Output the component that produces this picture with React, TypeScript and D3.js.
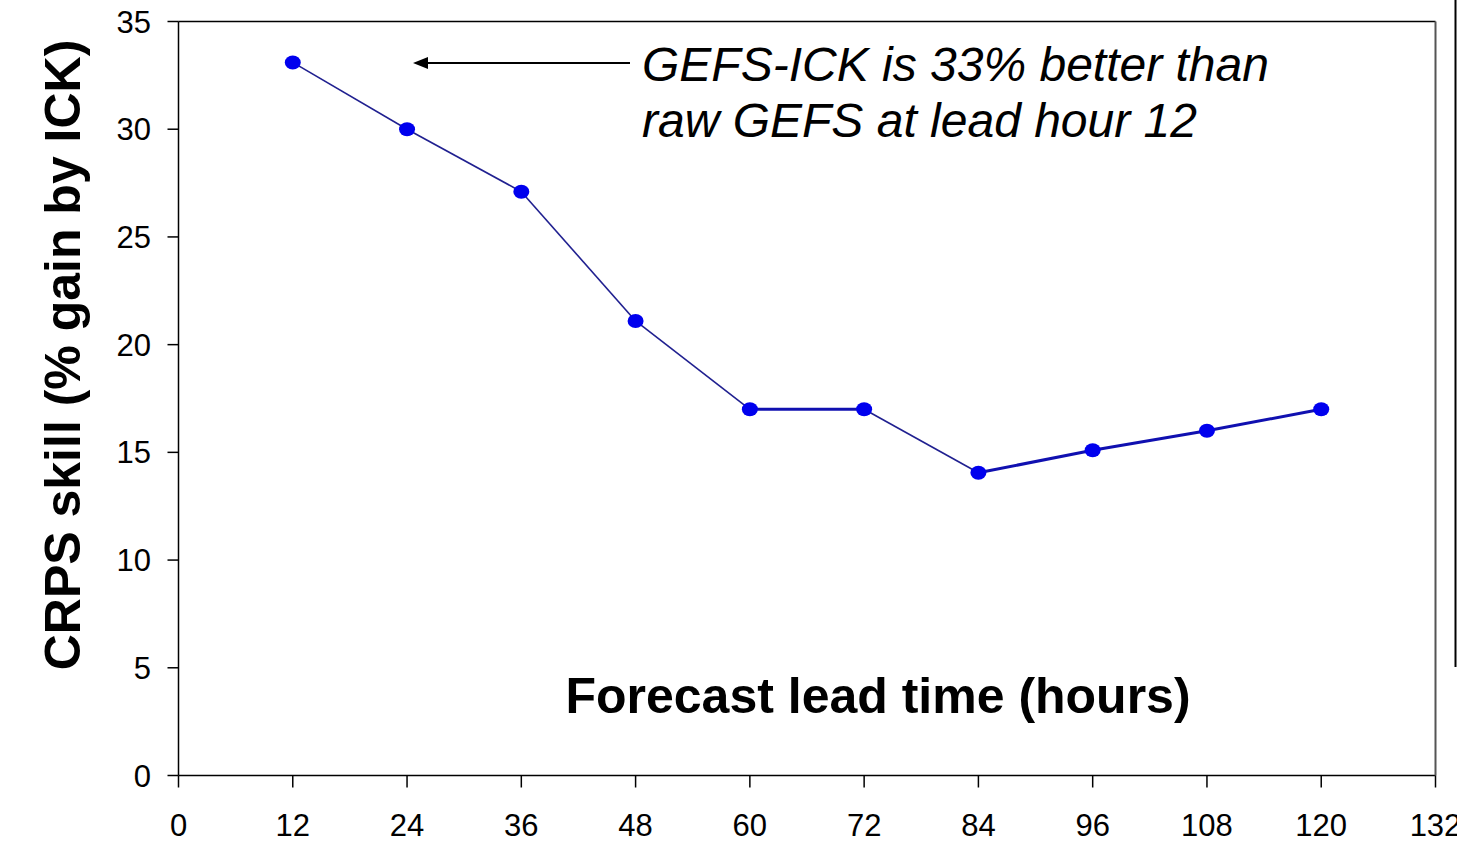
import React from "react";
import * as d3 from "d3";

const leadHours = [12, 24, 36, 48, 60, 72, 84, 96, 108, 120];
const skill = [33.1, 30.0, 27.1, 21.1, 17.0, 17.0, 14.05, 15.1, 16.0, 17.0];
const xTicks = [0, 12, 24, 36, 48, 60, 72, 84, 96, 108, 120, 132];
const yTicks = [0, 5, 10, 15, 20, 25, 30, 35];
const annotationLines = ["GEFS-ICK is 33% better than", "raw GEFS at lead hour 12"];

const W = 1457;
const H = 842;
const left = 178.5;
const right = 1435.5;
const top = 21.5;
const bottom = 775.5;

export default function App() {
  const x = d3.scaleLinear().domain([0, 132]).range([left, right]);
  const y = d3.scaleLinear().domain([0, 35]).range([bottom, top]);
  const pts = leadHours.map((h, i) => [x(h), y(skill[i])] as [number, number]);
  const font = "'Liberation Sans', Arial, sans-serif";
  return (
    <svg width={W} height={H} style={{ position: "absolute", left: 0, top: 0, background: "#fff" }}>
      <line x1={left} y1={top} x2={right} y2={top} stroke="#000" strokeWidth={1.5} />
      <line x1={left} y1={top} x2={left} y2={bottom} stroke="#000" strokeWidth={1.5} />
      <line x1={left} y1={bottom} x2={right} y2={bottom} stroke="#000" strokeWidth={1.5} />
      <line x1={right} y1={top} x2={right} y2={bottom} stroke="#555" strokeWidth={2} />
      <line x1={1455.5} y1={0} x2={1455.5} y2={667} stroke="#000" strokeWidth={2} />
      {yTicks.map((t) => (
        <g key={"y" + t}>
          <line x1={left - 11} x2={left} y1={y(t)} y2={y(t)} stroke="#000" strokeWidth={1.5} />
          <text x={151} y={y(t) + 11} textAnchor="end" fontFamily={font} fontSize={31} fill="#000">
            {t}
          </text>
        </g>
      ))}
      {xTicks.map((t) => (
        <g key={"x" + t}>
          <line x1={x(t)} x2={x(t)} y1={bottom} y2={bottom + 12} stroke="#000" strokeWidth={1.5} />
          <text x={x(t)} y={836} textAnchor="middle" fontFamily={font} fontSize={31} fill="#000">
            {t}
          </text>
        </g>
      ))}
      {pts.slice(1).map((p, i) => {
        const thick = i === 4 || i >= 6;
        return (
          <line
            key={"s" + i}
            x1={pts[i][0]}
            y1={pts[i][1]}
            x2={p[0]}
            y2={p[1]}
            stroke={thick ? "#1010b0" : "#202090"}
            strokeWidth={thick ? 3 : 1.6}
          />
        );
      })}
      {pts.map((p, i) => (
        <ellipse key={"c" + i} cx={p[0]} cy={p[1]} rx={8} ry={7} fill="#0000ee" />
      ))}
      <line x1={630} y1={63} x2={427} y2={63} stroke="#000" strokeWidth={2} />
      <path d="M413,63 L428,57 L428,69 Z" fill="#000" />
      {annotationLines.map((l, i) => (
        <text key={"a" + i} x={642} y={81 + i * 56} fontFamily={font} fontStyle="italic" fontSize={48} fill="#000">
          {l}
        </text>
      ))}
      <text x={878} y={713} textAnchor="middle" fontFamily={font} fontWeight="bold" fontSize={50} fill="#000">
        Forecast lead time (hours)
      </text>
      <text
        transform={`translate(80, 355) rotate(-90)`}
        textAnchor="middle"
        fontFamily={font}
        fontWeight="bold"
        fontSize={50}
        fill="#000"
      >
        CRPS skill (% gain by ICK)
      </text>
    </svg>
  );
}
